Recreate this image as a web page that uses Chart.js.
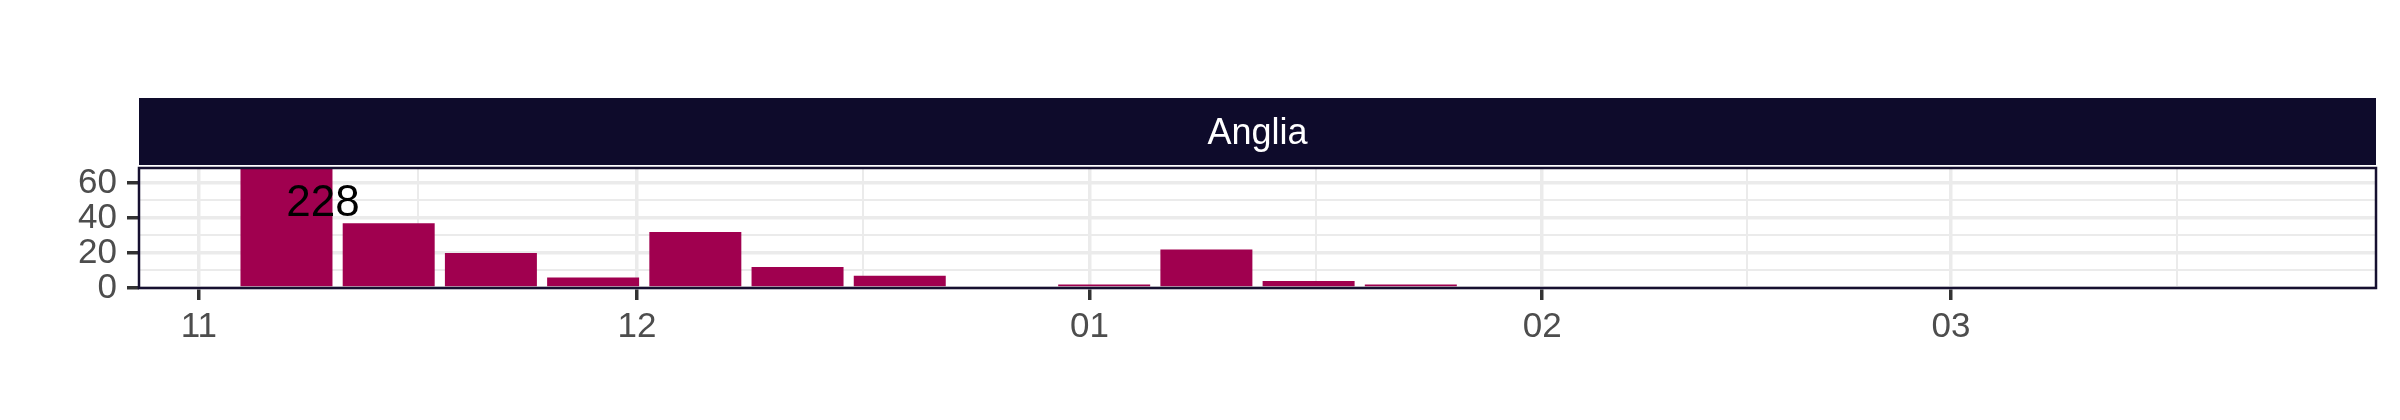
<!DOCTYPE html>
<html>
<head>
<meta charset="utf-8">
<script src="https://cdn.jsdelivr.net/npm/chart.js@4.4.1/dist/chart.umd.min.js"></script>
<style>html,body{margin:0;padding:0;background:#ffffff;}</style>
</head>
<body>
<canvas id="c" width="2400" height="420"></canvas>
<script>
// ---- data ----
const panelTitle = 'Anglia';
const originDate = '2020-11-01';
const weekDates = ['2020-11-07','2020-11-14','2020-11-21','2020-11-28','2020-12-05','2020-12-12','2020-12-19','2020-12-26',
  '2021-01-02','2021-01-09','2021-01-16','2021-01-23','2021-01-30','2021-02-06','2021-02-13','2021-02-20','2021-02-27',
  '2021-03-06','2021-03-13','2021-03-20'];
const weeklyCounts = [228, 37, 20, 6, 32, 12, 7, 0, 2, 22, 4, 2, 0, 0, 0, 0, 0, 0, 0, 0];
const xTickDates = ['2020-11-01','2020-12-01','2021-01-01','2021-02-01','2021-03-01'];
const xTickLabels = ['11','12','01','02','03'];
const xMinorDates = ['2020-11-16T00:00','2020-12-16T12:00','2021-01-16T12:00','2021-02-15T00:00','2021-03-16T12:00'];
const yMajorTicks = [0, 20, 40, 60];
const yMinorTicks = [10, 30, 50];
const xRange = [-4.1, 149.1];
const yRange = [0, 68.5];
const noteDates = ['2020-11-09T12:00'];
const noteValues = [48];
const noteTexts = [String(weeklyCounts[0])];

// ---- helpers ----
const dayOf = s => (Date.parse((s.length === 10 ? s + 'T00:00' : s) + ':00Z') - Date.parse(originDate + 'T00:00:00Z')) / 86400000;
const xMajorDays = xTickDates.map(dayOf);
const xMinorDays = xMinorDates.map(dayOf);
const isXMajor = v => xMajorDays.some(d => Math.abs(d - v) < 1e-6);
const isYMajor = v => yMajorTicks.includes(v);

const FONT = "'Liberation Sans', Arial, sans-serif";
const STRIP_BG = '#0E0B2B';
const BAR = '#A0004F';

const panelPlugin = {
  id: 'panel',
  beforeDraw(chart) {
    const {ctx, chartArea: a} = chart;
    ctx.save();
    ctx.fillStyle = STRIP_BG;
    ctx.fillRect(a.left, a.top - 70, a.right - a.left, 67);
    ctx.fillStyle = '#ffffff';
    ctx.font = '36px ' + FONT;
    ctx.textAlign = 'center';
    ctx.textBaseline = 'alphabetic';
    ctx.fillText(panelTitle, (a.left + a.right) / 2, a.top - 24);
    ctx.restore();
  },
  afterDatasetsDraw(chart) {
    const {ctx, scales: {x, y}} = chart;
    ctx.save();
    ctx.fillStyle = '#000000';
    ctx.font = '44px ' + FONT;
    ctx.textAlign = 'center';
    ctx.textBaseline = 'middle';
    noteTexts.forEach((t, i) => {
      ctx.fillText(t, x.getPixelForValue(dayOf(noteDates[i])), y.getPixelForValue(noteValues[i]));
    });
    ctx.restore();
  },
  afterDraw(chart) {
    const {ctx, chartArea: a} = chart;
    ctx.save();
    ctx.strokeStyle = '#161030';
    ctx.lineWidth = 2.5;
    ctx.strokeRect(a.left, a.top, a.right - a.left, a.bottom - a.top);
    ctx.restore();
  }
};

new Chart(document.getElementById('c'), {
  type: 'bar',
  data: {
    datasets: [{
      data: weekDates.map((d, i) => ({x: dayOf(d), y: weeklyCounts[i]})),
      backgroundColor: BAR,
      borderWidth: 0,
      barPercentage: 0.9,
      categoryPercentage: 1.0
    }]
  },
  options: {
    responsive: false,
    animation: false,
    layout: {padding: {top: 168, right: 24, left: 0, bottom: 0}},
    plugins: {legend: {display: false}, tooltip: {enabled: false}},
    scales: {
      x: {
        type: 'linear',
        min: xRange[0], max: xRange[1],
        offset: false,
        afterBuildTicks: s => { s.ticks = xMajorDays.concat(xMinorDays).sort((a, b) => a - b).map(v => ({value: v})); },
        afterFit: s => { s.height = 132; },
        border: {display: false},
        grid: {
          offset: false,
          color: '#EBEBEB',
          lineWidth: c => isXMajor(c.tick.value) ? 3.5 : 2,
          tickColor: c => isXMajor(c.tick.value) ? '#333333' : 'rgba(0,0,0,0)',
          tickLength: 12
        },
        ticks: {
          autoSkip: false, maxRotation: 0, minRotation: 0, padding: 6,
          color: '#4D4D4D', font: {family: FONT, size: 35},
          callback: v => { const i = xMajorDays.findIndex(d => Math.abs(d - v) < 1e-6); return i >= 0 ? xTickLabels[i] : ''; }
        }
      },
      y: {
        min: yRange[0], max: yRange[1],
        afterBuildTicks: s => { s.ticks = yMajorTicks.concat(yMinorTicks).sort((a, b) => a - b).map(v => ({value: v})); },
        afterFit: s => { s.width = 139; },
        border: {display: false},
        grid: {
          color: '#EBEBEB',
          lineWidth: c => isYMajor(c.tick.value) ? 3.5 : 2,
          tickColor: c => isYMajor(c.tick.value) ? '#333333' : 'rgba(0,0,0,0)',
          tickLength: 12
        },
        ticks: {
          autoSkip: false, padding: 10,
          color: '#4D4D4D', font: {family: FONT, size: 35},
          callback: v => isYMajor(v) ? String(v) : ''
        }
      }
    }
  },
  plugins: [panelPlugin]
});
</script>
</body>
</html>
